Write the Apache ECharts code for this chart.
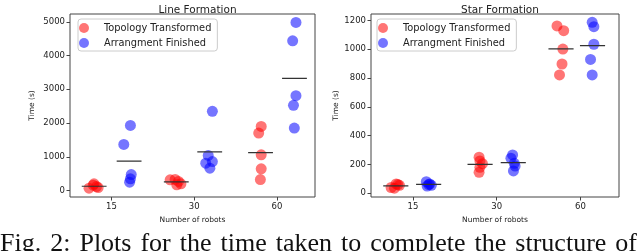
<!DOCTYPE html>
<html>
<head>
<meta charset="utf-8">
<script src="https://cdn.jsdelivr.net/npm/echarts@6/dist/echarts.min.js"></script>
<style>html,body{margin:0;padding:0;background:#fff;}#c{width:640px;height:251px;}</style>
</head>
<body>
<div id="c"></div>
<script>
// ---- data ----
const categories = ['15', '30', '60'];
const seriesNames = ['Topology Transformed', 'Arrangment Finished'];
const titles = ['Line Formation', 'Star Formation'];
const caption = 'Fig. 2: Plots for the time taken to complete the structure of';
// Line formation (seconds), per robot count
const lineTopo = [[70, 200, 120, 90, 160], [320, 330, 270, 200, 170], [1900, 1703, 1060, 644, 327]];
const lineArr = [[1366, 1930, 475, 350, 250], [2346, 1040, 811, 861, 663], [4980, 4436, 2812, 2525, 1851]];
// Star formation (seconds)
const starTopo = [[40, 65, 55, 35, 60], [250, 224, 205, 180, 145], [1161, 1128, 1001, 897, 821]];
const starArr = [[80, 65, 55, 50, 60], [266, 243, 208, 189, 155], [1186, 1156, 1034, 929, 821]];
// horizontal jitter of each point (in category units, relative to the tick)
const lineTopoJit = [[-0.27, -0.21, -0.18, -0.16, -0.22], [-0.29, -0.23, -0.19, -0.16, -0.21], [-0.19, -0.22, -0.19, -0.19, -0.20]];
const lineArrJit = [[0.15, 0.23, 0.24, 0.23, 0.22], [0.22, 0.17, 0.14, 0.22, 0.19], [0.23, 0.19, 0.23, 0.20, 0.21]];
const starTopoJit = [[-0.26, -0.20, -0.16, -0.22, -0.18], [-0.21, -0.20, -0.17, -0.20, -0.21], [-0.28, -0.20, -0.21, -0.22, -0.25]];
const starArrJit = [[0.16, 0.20, 0.22, 0.17, 0.19], [0.19, 0.17, 0.21, 0.22, 0.20], [0.14, 0.16, 0.16, 0.12, 0.14]];
const lineYTicks = [0, 1000, 2000, 3000, 4000, 5000];
const starYTicks = [0, 200, 400, 600, 800, 1000, 1200];
const xTicks = [0, 1, 2];

// ---- build ----
const FONT = 'DejaVu Sans';
function pts(vals, jit) {
  const out = [];
  vals.forEach((g, i) => g.forEach((v, k) => out.push([i + jit[i][k], v])));
  return out;
}
function means(vals, jit) {
  const out = [];
  vals.forEach((g, i) => {
    const m = g.reduce((a, b) => a + b, 0) / g.length;
    const cx = i + jit[i].reduce((a, b) => a + b, 0) / jit[i].length;
    out.push([cx - 0.15, m], [cx + 0.15, m], ['-', '-']);
  });
  return out;
}
const panels = [
  {topo: lineTopo, arr: lineArr, tj: lineTopoJit, aj: lineArrJit, yt: lineYTicks, ymin: -190, ymax: 5230, left: 70, width: 245, lgLeft: 78},
  {topo: starTopo, arr: starArr, tj: starTopoJit, aj: starArrJit, yt: starYTicks, ymin: -26, ymax: 1244, left: 371, width: 248, lgLeft: 377}
];
const grid = [], xAxis = [], yAxis = [], series = [], legend = [], title = [];
const tc = '#222';
panels.forEach((p, gi) => {
  grid.push({left: p.left, top: 14, width: p.width, height: 183, show: true, borderColor: '#444', borderWidth: 1, backgroundColor: 'transparent'});
  title.push({text: titles[gi], left: p.left + p.width / 2, top: 0, textAlign: 'center',
    textStyle: {fontFamily: FONT, fontSize: 10.5, fontWeight: 'normal', color: tc}});
  xAxis.push({type: 'value', gridIndex: gi, min: -0.5, max: 2.46, name: 'Number of robots', nameLocation: 'middle', nameGap: 18,
    nameTextStyle: {fontFamily: FONT, fontSize: 7.5, color: tc},
    splitLine: {show: false}, axisLine: {show: false, onZero: false},
    axisTick: {show: true, inside: false, length: 3.5, lineStyle: {color: '#444'}, customValues: xTicks},
    axisLabel: {fontFamily: FONT, fontSize: 8.5, color: tc, margin: 5, customValues: xTicks, formatter: v => categories[Math.round(v)]}});
  yAxis.push({type: 'value', gridIndex: gi, min: p.ymin, max: p.ymax, name: 'Time (s)', nameLocation: 'middle', nameRotate: 90,
    nameGap: gi === 0 ? 34 : 31, nameTextStyle: {fontFamily: FONT, fontSize: 7.5, color: tc},
    splitLine: {show: false}, axisLine: {show: false, onZero: false},
    axisTick: {show: true, inside: false, length: 3.5, lineStyle: {color: '#444'}, customValues: p.yt},
    axisLabel: {fontFamily: FONT, fontSize: 8.5, color: tc, margin: 5, customValues: p.yt, formatter: v => String(v)}});
  series.push({type: 'scatter', name: seriesNames[0], xAxisIndex: gi, yAxisIndex: gi, data: pts(p.topo, p.tj), symbolSize: 11,
    itemStyle: {color: 'rgba(255,0,0,0.68)'}, z: 2});
  series.push({type: 'scatter', name: seriesNames[1], xAxisIndex: gi, yAxisIndex: gi, data: pts(p.arr, p.aj), symbolSize: 11,
    itemStyle: {color: 'rgba(0,0,255,0.68)'}, z: 3});
  [[p.topo, p.tj], [p.arr, p.aj]].forEach(([v, j]) => series.push({type: 'line', name: 'mean', xAxisIndex: gi, yAxisIndex: gi,
    data: means(v, j), showSymbol: false, symbol: 'none', connectNulls: false, silent: true,
    lineStyle: {color: '#333', width: 1.2}, z: 5}));
  legend.push({data: seriesNames, orient: 'vertical', left: p.lgLeft, top: 19, padding: [4, 6, 3, 1],
    itemGap: 5, itemWidth: 30, itemHeight: 10, icon: 'circle', borderColor: '#ccc', borderWidth: 1, borderRadius: 3,
    backgroundColor: 'rgba(255,255,255,0.8)', selectedMode: false,
    textStyle: {fontFamily: FONT, fontSize: 9.8, color: tc, padding: [0, 0, 0, 0]}});
});

// caption (clipped at the bottom of the picture), words spread across the width
const capFont = '26px "Liberation Serif"';
const ctx = document.createElement('canvas').getContext('2d');
ctx.font = capFont;
const words = caption.split(' ');
const widths = words.map(w => ctx.measureText(w).width);
const total = widths.reduce((a, b) => a + b, 0);
const gap = Math.max(6, (637 - total) / (words.length - 1));
const graphic = [];
let x = 0;
words.forEach((w, i) => {
  graphic.push({type: 'text', x: x, y: 231, style: {text: w, font: capFont, fill: '#111'}});
  x += widths[i] + gap;
});

const chart = echarts.init(document.getElementById('c'), null, {renderer: 'canvas'});
chart.setOption({
  animation: false,
  backgroundColor: '#fff',
  title, grid, xAxis, yAxis, series, legend, graphic
});
</script>
</body>
</html>
